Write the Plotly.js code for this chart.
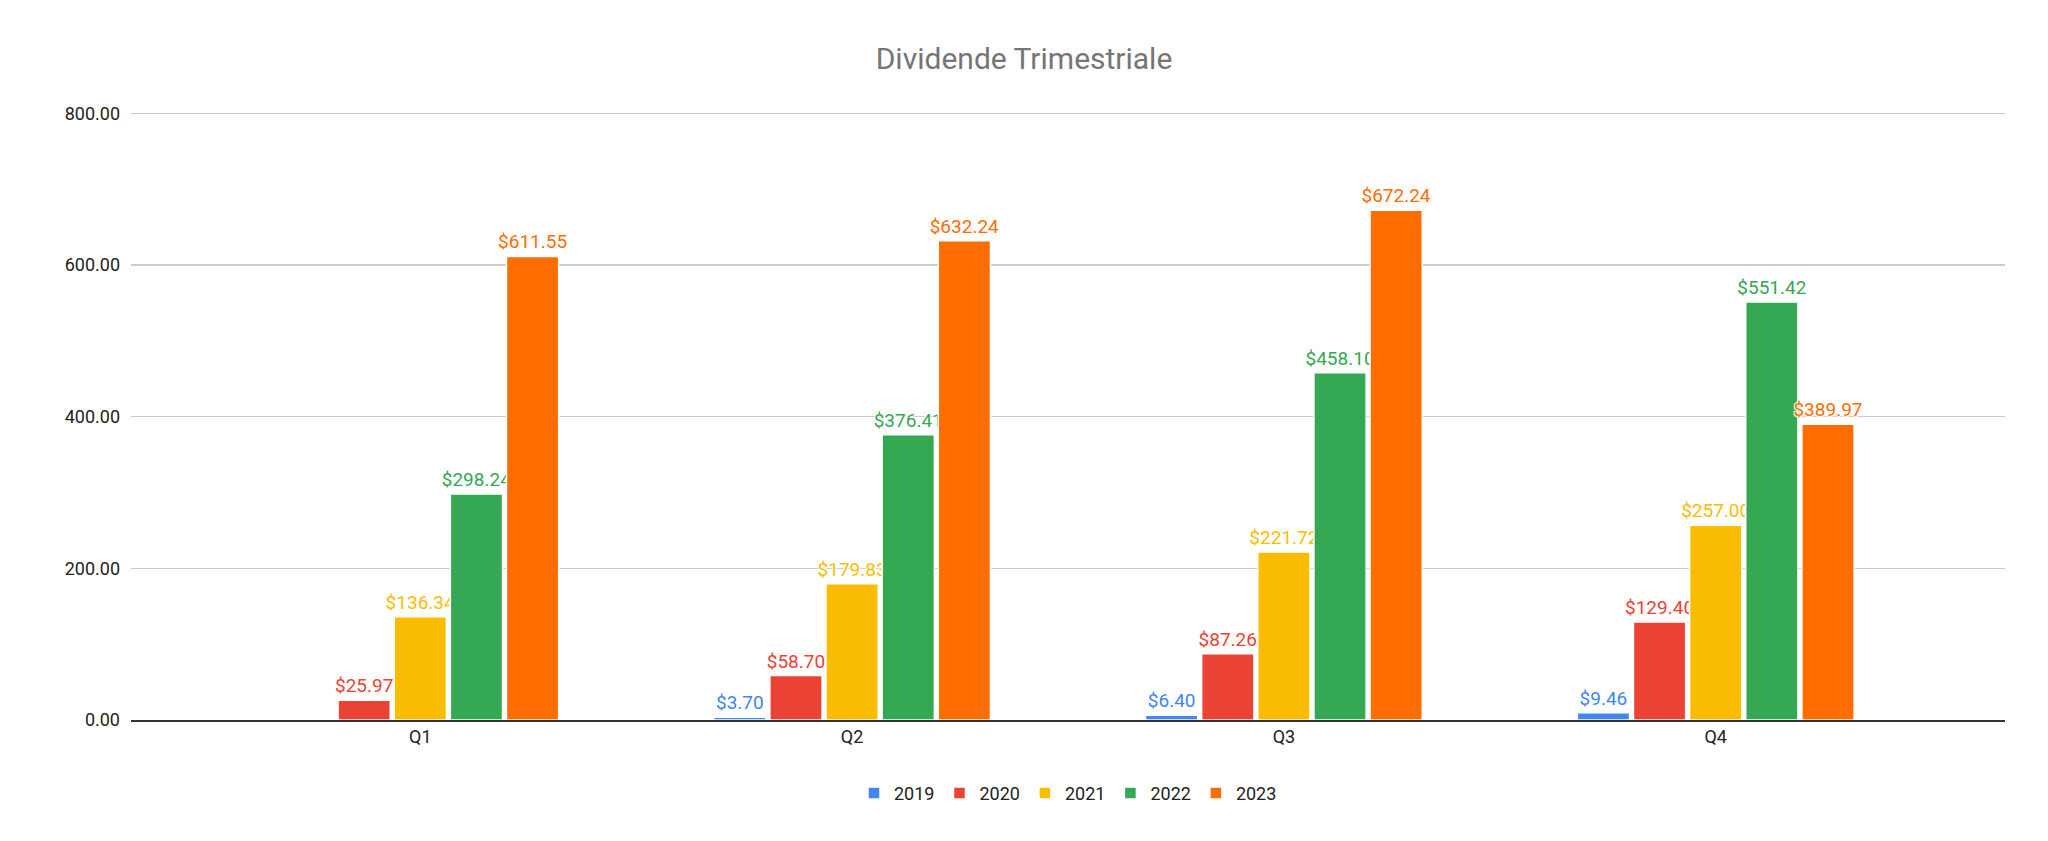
<!DOCTYPE html>
<html>
<head>
<meta charset="utf-8">
<script src="https://cdn.plot.ly/plotly-3.0.1.min.js"></script>
<style>html,body{margin:0;padding:0;background:#fff}#chart{width:2048px;height:841px}</style>
</head>
<body>
<div id="chart"></div>
<script>
const quarters = ["Q1", "Q2", "Q3", "Q4"];
const years = ["2019", "2020", "2021", "2022", "2023"];
const colors = ["#4285f4", "#ea4335", "#fbbc04", "#34a853", "#ff6d01"];
const values = [
    [null, 3.70, 6.40, 9.46],
    [25.97, 58.70, 87.26, 129.40],
    [136.34, 179.83, 221.72, 257.00],
    [298.24, 376.41, 458.10, 551.42],
    [611.55, 632.24, 672.24, 389.97]
];

let fmt = v => v == null ? "" : "$" + v.toFixed(2);

let data = years.map((y, i) => ({
    type: "bar",
    name: y,
    x: quarters,
    y: values[i],
    text: values[i].map(fmt),
    textposition: "outside",
    constraintext: "none",
    cliponaxis: false,
    textfont: {
        family: "Roboto, Arial, sans-serif",
        size: 19,
        color: colors[i],
        shadow: "1px 1px 1px #fff, -1px -1px 1px #fff, 1px -1px 1px #fff, -1px 1px 1px #fff"
    },
    marker: { color: colors[i], line: { color: "#fff", width: 1.5 } },
    hoverinfo: "none"
}));

let layout = {
    width: 2048,
    height: 841,
    margin: { l: 131, r: 43, t: 112, b: 121 },
    paper_bgcolor: "#fff",
    plot_bgcolor: "#fff",
    font: { family: "Roboto, Arial, sans-serif", size: 18, color: "#222" },
    title: {
        text: "Dividende Trimestriale",
        font: { size: 30, color: "#757575" },
        x: 0.5, xanchor: "center", y: 0.93, yanchor: "middle"
    },
    barmode: "group",
    bargap: 0.35,
    bargroupgap: 0.07,
    xaxis: {
        range: [-0.67, 3.67],
        showgrid: false,
        showline: true,
        linecolor: "#333",
        linewidth: 1.5,
        ticks: "",
        tickfont: { size: 18, color: "#222" }
    },
    yaxis: {
        range: [0, 802],
        tickvals: [0, 200, 400, 600, 800],
        tickprefix: "$",
        tickformat: ",.2f",
        gridcolor: "#cccccc",
        gridwidth: 1.3,
        zeroline: false,
        ticks: "",
        ticklabelstandoff: 10,
        tickfont: { size: 18, color: "#222" }
    },
    showlegend: true,
    legend: {
        orientation: "h",
        x: 0.5, xanchor: "center",
        y: -0.09, yanchor: "top",
        font: { size: 18, color: "#222" }
    }
};

Plotly.newPlot("chart", data, layout, { displayModeBar: false, staticPlot: true });
</script>
</body>
</html>
